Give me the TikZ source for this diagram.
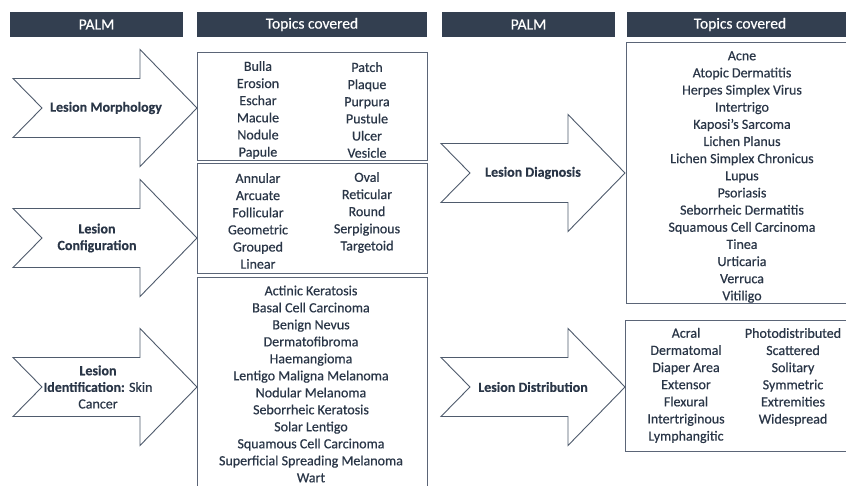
\documentclass[tikz,border=0pt]{standalone}
\usepackage{fontspec}
\setmainfont{Carlito}[FakeBold=0.4]
\newfontfamily\boldish{Carlito}[FakeBold=0.5,BoldFeatures={FakeBold=0.3}]
\definecolor{hdr}{HTML}{333F50}
\definecolor{txt}{HTML}{2A3647}
\definecolor{aline}{HTML}{4F5B6D}
\definecolor{bline}{HTML}{5B6577}
\newcommand\palmarrow[2]{%
  \draw[arrowline] (#1,#2-29.5) -- (#1+127,#2-29.5) -- (#1+127,#2-58.5) -- (#1+184,#2)
    -- (#1+127,#2+58.5) -- (#1+127,#2+29.5) -- (#1,#2+29.5) -- (#1+29,#2) -- cycle;}
\begin{document}
\begin{tikzpicture}[x=1pt,y=-1pt,
  header/.style={fill=hdr,draw=none,text=white,font=\fontsize{15.5}{18}\selectfont},
  arrowline/.style={draw=aline,line width=0.9pt,fill=white,line join=miter},
  listbox/.style={draw=bline,line width=1pt},
  lbl/.style={text=txt,align=center,inner sep=0pt,font=\boldish\fontsize{14}{16.6}\selectfont},
  blbl/.style={lbl,font=\boldish\bfseries\fontsize{14}{16.6}\selectfont},
  items/.style={text=txt,align=center,inner sep=0pt,font=\boldish\fontsize{14}{17.15}\selectfont}]
\clip (0,0) rectangle (846,486);
\fill[white] (0,0) rectangle (846,486);
% headers
\fill[hdr] (10,12) rectangle (183,37);
\node[header] (h1) at (96.5,24.5) {PALM};
\fill[hdr] (197,12) rectangle (427,37);
\node[header] (h2) at (312,24.5) {Topics covered};
\fill[hdr] (442,12) rectangle (615,37);
\node[header] (h3) at (528.5,24.5) {PALM};
\fill[hdr] (627,12) rectangle (853,37);
\node[header] (h4) at (740,24.5) {Topics covered};
% boxes
\draw[listbox] (197,53) rectangle (427,161);
\draw[listbox] (197,164) rectangle (427,274);
\draw[listbox] (197,278) rectangle (427,500);
\draw[listbox] (626,43) rectangle (858,304);
\draw[listbox] (625,321) rectangle (858,451);
% arrows
\palmarrow{13}{108}
\palmarrow{13}{238}
\palmarrow{13}{387}
\palmarrow{441}{173}
\palmarrow{441}{387}
\node[blbl] (a1) at (106,108) {Lesion Morphology};
\node[blbl] (a2) at (97,238) {Lesion\\Configuration};
\node[lbl] (a3) at (98,387) {\textbf{Lesion}\\\textbf{Identification:} Skin\\Cancer};
\node[blbl] (a4) at (533,173) {Lesion Diagnosis};
\node[blbl] (a5) at (533,387) {Lesion Distribution};
% box 1
\node[items] (m1) at (258,110) {Bulla\\Erosion\\Eschar\\Macule\\Nodule\\Papule};
\node[items] (m2) at (367,110) {Patch\\Plaque\\Purpura\\Pustule\\Ulcer\\Vesicle};
% box 2
\node[items] (c1) at (258,221) {Annular\\Arcuate\\Follicular\\Geometric\\Grouped\\Linear};
\node[items] (c2) at (367,212.5) {Oval\\Reticular\\Round\\Serpiginous\\Targetoid};
% box 3
\node[items,font=\boldish\fontsize{14}{17}\selectfont] (s1) at (311,384) {Actinic Keratosis\\Basal Cell Carcinoma\\Benign Nevus\\Dermatofibroma\\Haemangioma\\Lentigo Maligna Melanoma\\Nodular Melanoma\\Seborrheic Keratosis\\Solar Lentigo\\Squamous Cell Carcinoma\\Superficial Spreading Melanoma\\Wart};
% diagnosis box
\node[items] (d1) at (742,177) {Acne\\Atopic Dermatitis\\Herpes Simplex Virus\\Intertrigo\\Kaposi’s Sarcoma\\Lichen Planus\\Lichen Simplex Chronicus\\Lupus\\Psoriasis\\Seborrheic Dermatitis\\Squamous Cell Carcinoma\\Tinea\\Urticaria\\Verruca\\Vitiligo};
% distribution box
\node[items] (t1) at (686,385.5) {Acral\\Dermatomal\\Diaper Area\\Extensor\\Flexural\\Intertriginous\\Lymphangitic};
\node[items] (t2) at (793,377) {Photodistributed\\Scattered\\Solitary\\Symmetric\\Extremities\\Widespread};
\end{tikzpicture}
\end{document}
